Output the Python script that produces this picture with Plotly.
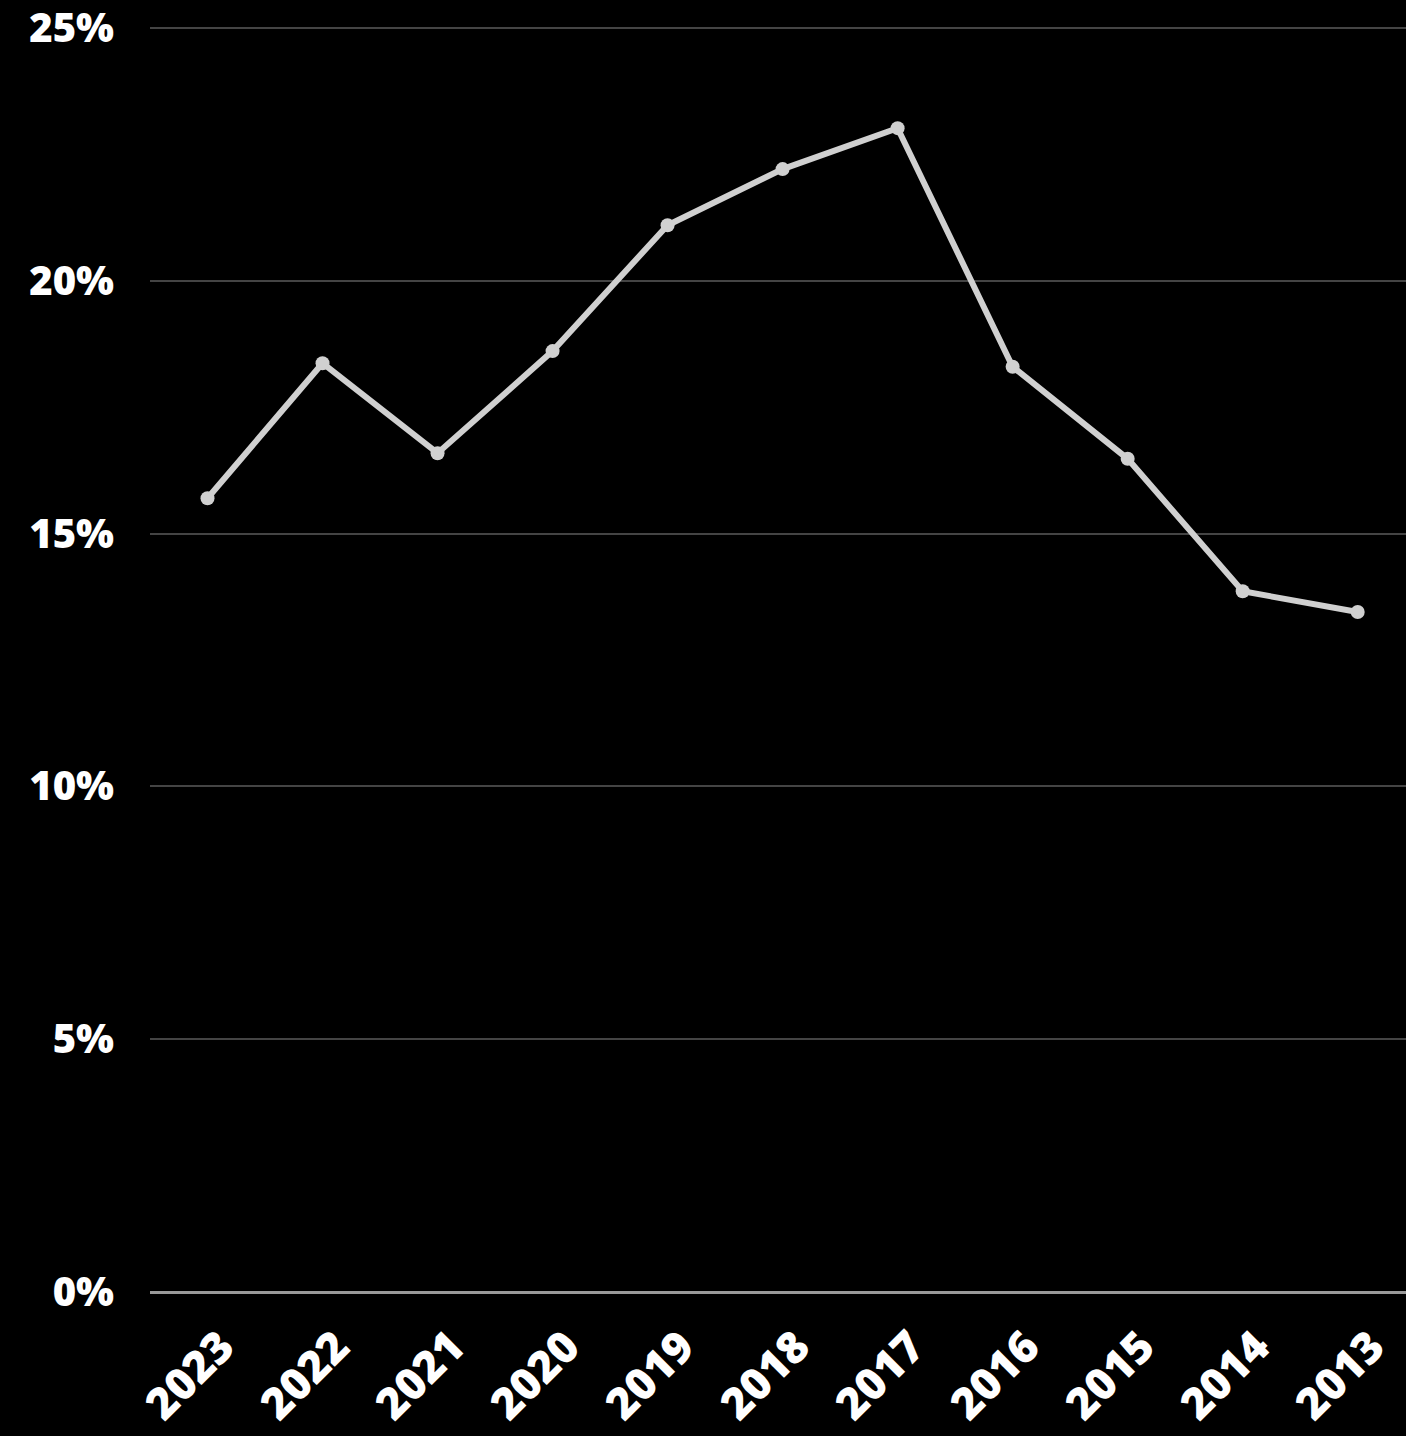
import plotly.graph_objects as go

years = ["2023", "2022", "2021", "2020", "2019", "2018", "2017", "2016", "2015", "2014", "2013"]
share_pct = [15.70, 18.37, 16.59, 18.61, 21.10, 22.21, 23.02, 18.30, 16.48, 13.86, 13.45]
y_ticks = [0, 5, 10, 15, 20, 25]
y_tick_labels = ["0%", "5%", "10%", "15%", "20%", "25%"]

x_font = dict(family="Open Sans", size=44, color="#ffffff", weight=800)
y_font = dict(family="Open Sans", size=40, color="#ffffff", weight=800)

fig = go.Figure(
    go.Scatter(
        x=years,
        y=share_pct,
        mode="lines+markers",
        line=dict(color="#d0d0d0", width=6),
        marker=dict(color="#d0d0d0", size=14),
        hoverinfo="x+y",
    )
)

fig.update_layout(
    width=1406,
    height=1436,
    paper_bgcolor="#000000",
    plot_bgcolor="#000000",
    margin=dict(l=150, r=0, t=26, b=144),
    showlegend=False,
)

fig.update_xaxes(
    type="category",
    range=[-0.5, 10.42],
    tickangle=-45,
    tickfont=x_font,
    showgrid=False,
    showline=False,
    zeroline=False,
    ticks="",
    ticklabelstandoff=19,
    ticklabelshift=14,
    ticklabeloverflow="allow",
    automargin=False,
)

fig.update_yaxes(
    range=[0, 25.04],
    tickvals=y_ticks,
    ticktext=y_tick_labels,
    tickfont=y_font,
    showgrid=True,
    gridcolor="#444444",
    gridwidth=1.5,
    zeroline=True,
    zerolinecolor="#999999",
    zerolinewidth=3,
    showline=False,
    ticks="",
    ticklabelstandoff=35,
    ticklabeloverflow="allow",
    automargin=False,
)

fig.write_html("out.html")
